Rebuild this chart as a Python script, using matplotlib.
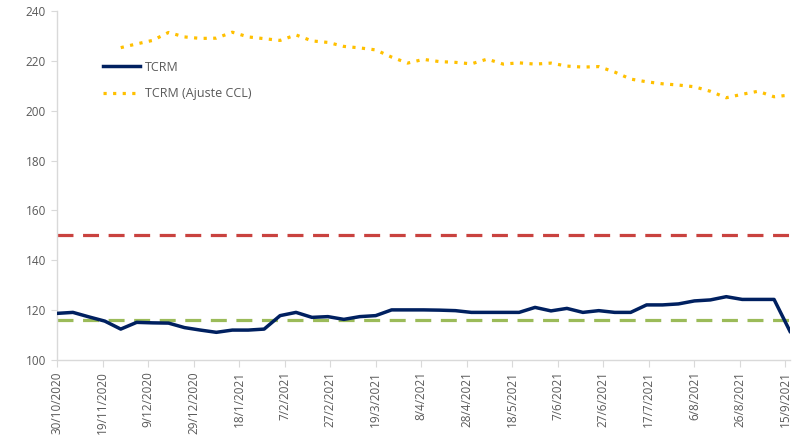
import matplotlib
matplotlib.use("Agg")
import matplotlib.pyplot as plt
import pandas as pd

# Weekly dates
dates = ["30/10/2020", "6/11/2020", "13/11/2020", "20/11/2020", "27/11/2020",
         "4/12/2020", "11/12/2020", "18/12/2020", "25/12/2020", "1/1/2021",
         "8/1/2021", "15/1/2021", "22/1/2021", "29/1/2021", "5/2/2021",
         "12/2/2021", "19/2/2021", "26/2/2021", "5/3/2021", "12/3/2021",
         "19/3/2021", "26/3/2021", "2/4/2021", "9/4/2021", "16/4/2021",
         "23/4/2021", "30/4/2021", "7/5/2021", "14/5/2021", "21/5/2021",
         "28/5/2021", "4/6/2021", "11/6/2021", "18/6/2021", "25/6/2021",
         "2/7/2021", "9/7/2021", "16/7/2021", "23/7/2021", "30/7/2021",
         "6/8/2021", "13/8/2021", "20/8/2021", "27/8/2021", "3/9/2021",
         "10/9/2021", "17/9/2021"]

tcrm = [118.7, 119.1, 117.3, 115.6, 112.4,
        115.1, 114.9, 114.8, 113.0, 112.0,
        111.1, 112.0, 112.0, 112.4, 117.8,
        119.1, 117.1, 117.4, 116.3, 117.4,
        117.8, 120.1, 120.1, 120.1, 120.0,
        119.8, 119.1, 119.1, 119.1, 119.1,
        121.1, 119.7, 120.7, 119.1, 119.8,
        119.1, 119.1, 122.1, 122.1, 122.5,
        123.7, 124.1, 125.4, 124.3, 124.3,
        124.3, 111.5]

# Ajuste CCL starts on 27/11/2020
ccl_dates = dates[4:]
tcrm_ccl = [225.3,
            226.8, 228.2, 231.4, 229.6, 229.0,
            229.1, 231.5, 229.6, 228.9, 228.2,
            230.4, 228.0, 227.4, 225.8, 225.2,
            224.4, 221.5, 219.1, 220.6, 219.7,
            219.4, 218.8, 220.7, 218.7, 219.2,
            218.7, 219.1, 217.9, 217.5, 217.7,
            215.5, 212.7, 211.6, 210.8, 210.3,
            209.6, 207.8, 205.2, 206.6, 207.8,
            205.6, 206.3]

ref_red = 150.0
ref_green = 116.0

tick_start = "30/10/2020"
tick_end = "15/9/2021"
tick_step_days = 20
y_ticks = [100, 120, 140, 160, 180, 200, 220, 240]

x = pd.to_datetime(dates, dayfirst=True)
x_ccl = pd.to_datetime(ccl_dates, dayfirst=True)

plt.rcParams['font.family'] = ['Open Sans', 'DejaVu Sans']
text_col = "#595959"
axis_col = "#D9D9D9"

fig = plt.figure(figsize=(8.02, 4.40), dpi=100)
ax = fig.add_axes([57/802, 1-360/440, (790-57)/802, (360-11)/440])

ax.axhline(ref_red, color="#C9423F", lw=2.3, ls=(0, (5, 3)), zorder=2)
ax.axhline(ref_green, color="#9BBB59", lw=2.3, ls=(0, (5, 3)), zorder=2)
ax.plot(x, tcrm, color="#002060", lw=2.5, label="TCRM", zorder=3,
        solid_joinstyle="round")
ax.plot(x_ccl, tcrm_ccl, color="#FFC000", lw=2.3, ls=(0, (1, 2.0)),
        label="TCRM (Ajuste CCL)", zorder=3)

ax.set_xlim(x[0], x[-1])
ax.set_ylim(y_ticks[0], y_ticks[-1])
ax.set_yticks(y_ticks)
ticks = pd.date_range(pd.to_datetime(tick_start, dayfirst=True),
                      pd.to_datetime(tick_end, dayfirst=True),
                      freq=f"{tick_step_days}D")
ax.set_xticks(ticks)
ax.set_xticklabels([f"{d.day}/{d.month}/{d.year}" for d in ticks],
                   rotation=90, fontsize=8.5, color=text_col)
ax.tick_params(axis="y", labelsize=8.5, labelcolor=text_col, color=axis_col,
               length=4, pad=4)
ax.tick_params(axis="x", color=axis_col, length=5, pad=3)

for s in ["top", "right"]:
    ax.spines[s].set_visible(False)
for s in ["left", "bottom"]:
    ax.spines[s].set_color(axis_col)
    ax.spines[s].set_linewidth(1)

leg = ax.legend(loc="upper left", bbox_to_anchor=(0.047, 0.89), frameon=False,
                fontsize=9, handlelength=3.0, labelspacing=1.1,
                handletextpad=0.4)
for t in leg.get_texts():
    t.set_color(text_col)

fig.savefig("out.png", dpi=100)
